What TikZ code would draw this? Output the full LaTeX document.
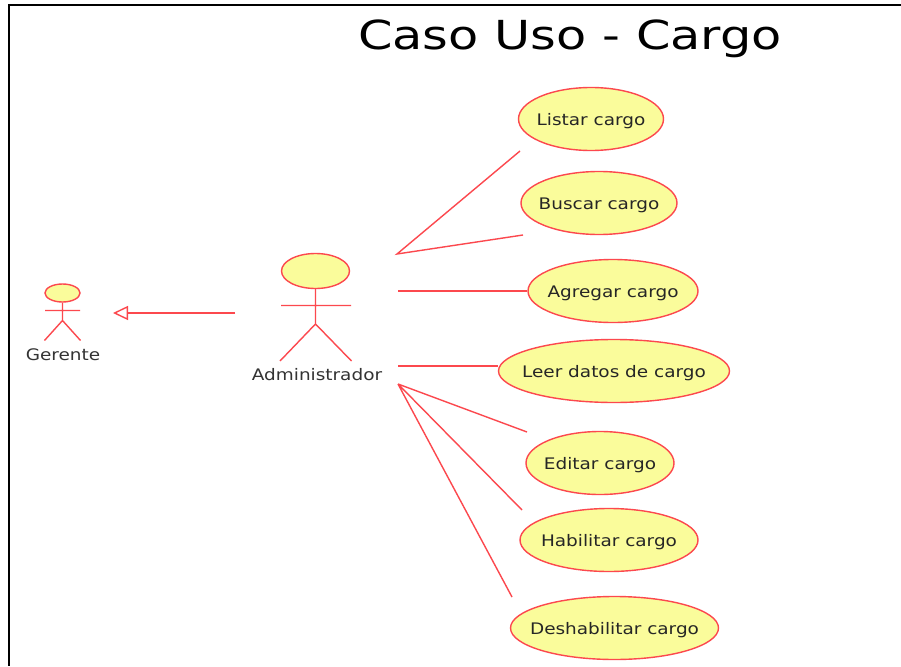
\documentclass[tikz,border=0pt]{standalone}
\usepackage{graphicx}
\usepackage{fontspec}
\setmainfont{DejaVu Sans}
\usetikzlibrary{arrows.meta,shapes.geometric}
\definecolor{umlred}{RGB}{252,72,78}
\definecolor{umlfill}{RGB}{250,252,155}
\newcommand{\widetext}[1]{\raisebox{-6pt}[0pt][0pt]{\makebox[0pt]{\scalebox{1.16}[1]{#1}}}}
\tikzset{
 x=1pt,y=-1pt,
 usecase/.style={draw=umlred,fill=umlfill,ellipse,line width=1.4pt,inner sep=0pt,minimum width=#1,minimum height=63pt,font=\fontsize{15.9}{17}\selectfont,text=black!85},
 link/.style={draw=umlred,line width=1.4pt},
 actorline/.style={draw=umlred,line width=1.4pt},
 actorhead/.style={draw=umlred,fill=umlfill,ellipse,line width=1.4pt,inner sep=0pt},
 actorname/.style={font=\fontsize{15.9}{17}\selectfont,text=black!80,inner sep=0pt},
 genarrow/.style={draw=umlred,line width=1.4pt,-{Triangle[open,length=15pt,width=14pt,fill=white]}},
}
\begin{document}
\begin{tikzpicture}
\useasboundingbox (0,0) rectangle (901,666);
\fill[white] (0,0) rectangle (901,666);
\coordinate (frameTR) at (901,5);
\coordinate (frameTL) at (8.5,5);
\coordinate (frameBL) at (8.5,666);
\draw[line width=2pt] (frameTR) -- (frameTL) -- (frameBL);
\node[font=\fontsize{40}{44}\selectfont,text=black,inner sep=0pt] (title) at (570,39) {\scalebox{1.235}[1]{Caso Uso - Cargo}};

\node[usecase=145pt] (listar) at (591,119) {\widetext{Listar cargo}};
\node[usecase=156pt] (buscar) at (599,203) {\widetext{Buscar cargo}};
\node[usecase=170pt] (agregar) at (613,291) {\widetext{Agregar cargo}};
\node[usecase=231pt] (leer) at (614,371) {\widetext{Leer datos de cargo}};
\node[usecase=148pt] (editar) at (600,463) {\widetext{Editar cargo}};
\node[usecase=178pt] (habilitar) at (609,540) {\widetext{Habilitar cargo}};
\node[usecase=208pt] (deshabilitar) at (614.5,628) {\widetext{Deshabilitar cargo}};

% Gerente
\node[actorhead,minimum width=35pt,minimum height=18pt] (ghead) at (62.5,293) {};
\coordinate (ghip) at (62.5,320.5);
\coordinate (gl) at (45,310.5);
\coordinate (gr) at (80,310.5);
\coordinate (gfl) at (44.5,340.5);
\coordinate (gfr) at (80.5,340.5);
\draw[actorline] (ghead.south) -- (ghip) (gl) -- (gr) (gfl) -- (ghip) -- (gfr);
\node[actorname] (gname) at (63,354) {\widetext{Gerente}};

% Administrador
\node[actorhead,minimum width=68pt,minimum height=35pt] (ahead) at (315.5,271) {};
\coordinate (ahip) at (315.5,324);
\coordinate (al) at (281,305.5);
\coordinate (ar) at (351,305.5);
\coordinate (afl) at (280,361);
\coordinate (afr) at (351.5,361);
\draw[actorline] (ahead.south) -- (ahip) (al) -- (ar) (afl) -- (ahip) -- (afr);
\node[actorname] (aname) at (317,374.5) {\widetext{Administrador}};

% Generalization
\coordinate (genstart) at (235,313);
\coordinate (genend) at (113,313);
\draw[genarrow] (genstart) -- (genend);

% Associations
\coordinate (a1) at (397,254);
\coordinate (a2) at (398,291);
\coordinate (a3) at (398,366);
\coordinate (a4) at (398,384);
\coordinate (e1) at (520,151);
\coordinate (e2) at (523,235);
\coordinate (e5) at (527,432);
\coordinate (e6) at (522,510);
\coordinate (e7) at (512,597);
\draw[link] (e1) -- (a1) -- (e2);
\draw[link] (a2) -- (agregar.west);
\draw[link] (a3) -- (a3 -| leer.west);
\draw[link] (a4) -- (e5) (a4) -- (e6) (a4) -- (e7);
\end{tikzpicture}
\end{document}
